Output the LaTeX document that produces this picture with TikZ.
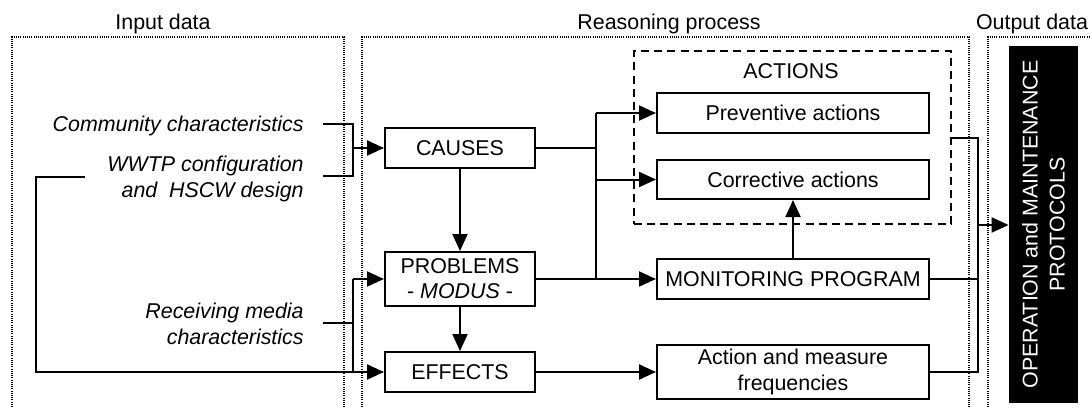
\documentclass[tikz,border=0pt]{standalone}
\usepackage{fontspec}
\setmainfont{Liberation Sans}
\usetikzlibrary{arrows.meta}
\begin{document}
\begin{tikzpicture}[x=0.5pt,y=-0.5pt,
  font=\fontsize{10.7}{12.6}\selectfont,
  ln/.style={line width=1pt},
  arr/.style={ln,-{Triangle[length=8.5pt,width=7.5pt]}},
  frame/.style={line width=0.6pt,dash pattern=on 0.5pt off 0.6pt},
  box/.style={draw,ln,inner sep=0pt,align=center,minimum width=75pt,minimum height=20pt},
  wbox/.style={box,minimum width=136pt},
  lbl/.style={font=\fontsize{10.7}{12.7}\selectfont\itshape,align=right,anchor=east,inner sep=0pt},
  title/.style={inner sep=0pt}]
\useasboundingbox (0,0) rectangle (1091,407);

% column frames
\draw[frame] (12,407) -- (12,37) -- (344,37) -- (344,407);
\draw[frame] (362,407) -- (362,37) -- (969,37) -- (969,407);
\draw[frame] (988,407) -- (988,37) -- (1091,37);
\node[title] (tin)  at (163,24) {Input data};
\node[title] (treas) at (669,24) {Reasoning process};
\node[title] (tout) at (1032,24) {Output data};

% input texts
\node[lbl] (comm) at (304,126) {Community characteristics};
\node[lbl] (wwtp) at (304,179) {WWTP configuration\\and\ \ HSCW design};
\node[lbl] (recv) at (304,324) {Receiving media\\characteristics};

% reasoning boxes
\node[box] (causes) at (460,148) {CAUSES};
\node[box,minimum height=27pt] (problems) at (460,279) {PROBLEMS\\- \textit{MODUS} -};
\node[box] (effects) at (460,372) {EFFECTS};

\node[draw,line width=0.9pt,dash pattern=on 4pt off 2.6pt,minimum width=158.5pt,minimum height=86.5pt,inner sep=0pt] (actbox) at (792.5,137.5) {};
\node[title] (acttitle) at (791,71) {ACTIONS};
\node[wbox] (prev) at (793,113) {Preventive actions};
\node[wbox,minimum height=19.5pt] (corr) at (793,179.5) {Corrective actions};
\node[wbox] (mon) at (793,279) {MONITORING PROGRAM};
\node[wbox,minimum height=27pt] (freq) at (793,372) {Action and measure\\frequencies};

% output box
\node[fill=black,minimum width=34.5pt,minimum height=178.5pt,inner sep=0pt] (proto) at (1043.5,224.5) {};
\node[rotate=90,text=white,align=center,font=\fontsize{10.7}{13.5}\selectfont] (prototxt) at (proto.center) {OPERATION and MAINTENANCE\\PROTOCOLS};

% junction points
\coordinate (c1s) at (323,124);
\coordinate (c2s) at (323,176);
\coordinate (jc) at (353,148);
\coordinate (wl) at (85,177);
\coordinate (rs) at (323,323);
\coordinate (jr) at (353,279);
\coordinate (ja) at (596,148);
\coordinate (jo) at (978,225);

% input connectors
\draw[ln] (c1s) -- ++(30,0) |- (c2s);
\draw[arr] (jc) -- (causes.west);
\draw[arr] (wl) -- ++(-49,0) |- (effects.west);
\draw[ln] (rs) -- ++(30,0);
\draw[arr] (jr) -- (problems.west);
\draw[ln] (jr) -- (jr |- effects.west);

% reasoning connectors
\draw[arr] (causes.south) -- (problems.north);
\draw[arr] (problems.south) -- (effects.north);
\draw[ln,line width=1.3pt] (causes.east) -- (ja);
\draw[ln] (ja |- prev.west) -- (ja |- mon.west);
\draw[arr] (ja |- prev.west) -- (prev.west);
\draw[arr] (ja |- corr.west) -- (corr.west);
\draw[arr] (problems.east) -- (mon.west);
\draw[arr] (mon.north) -- (corr.south);
\draw[arr] (effects.east) -- (freq.west);

% output connectors
\draw[ln] (actbox.east) -- (jo |- actbox.east) -- (jo |- freq.east) -- (freq.east);
\draw[ln] (mon.east) -- (jo |- mon.east);
\draw[arr] (jo) -- (jo -| proto.west);
\end{tikzpicture}
\end{document}
